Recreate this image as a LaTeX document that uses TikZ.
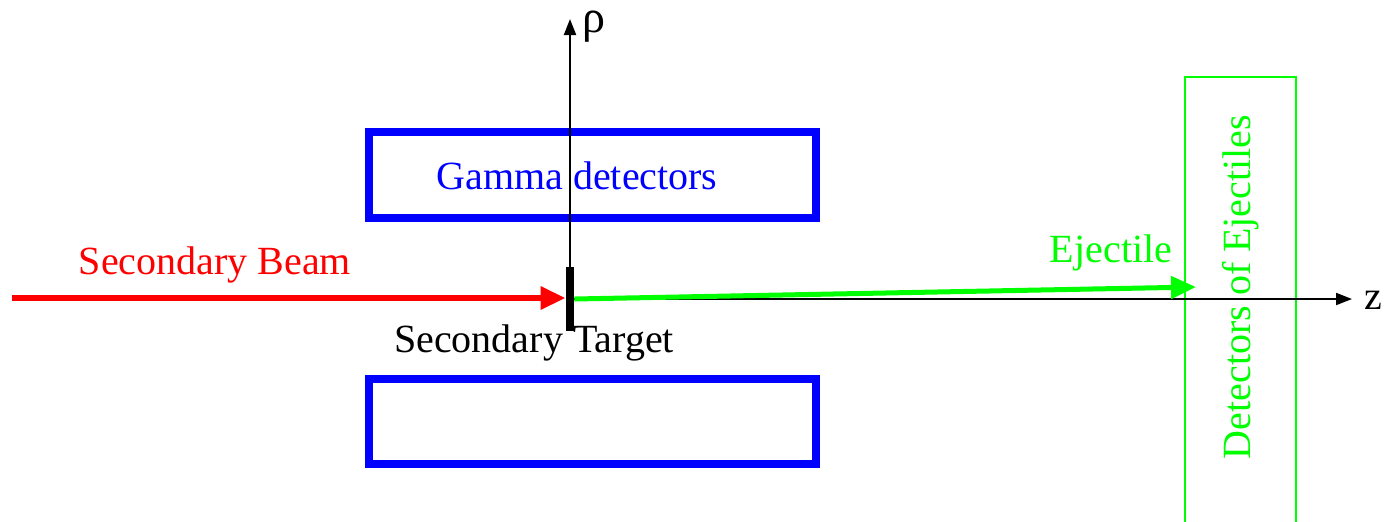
\documentclass[tikz,border=0pt]{standalone}
\usepackage{fontspec}
\setmainfont{Liberation Serif}
\usetikzlibrary{arrows.meta}
\definecolor{pgreen}{RGB}{0,255,0}
\definecolor{pblue}{RGB}{0,0,255}
\definecolor{pred}{RGB}{255,0,0}
\begin{document}
\begin{tikzpicture}[x=0.5pt,y=-0.5pt,
  lbl/.style={font=\fontsize{20}{24}\selectfont, inner sep=0pt},
  gbox/.style={draw=pblue, line width=4pt, minimum width=223.5pt, inner sep=0pt},
  axis/.style={line width=1pt, -{Triangle[length=8pt,width=6pt]}},
  beam/.style={pred, line width=3pt, -{Triangle[length=12.5pt,width=11pt]}},
  ejec/.style={pgreen, line width=2.5pt, -{Triangle[length=12.5pt,width=11pt]}}]
\useasboundingbox (0,0) rectangle (1385,521);
% gamma detectors
\node[gbox, minimum height=43pt] (gtop) at (592.5,175) {};
\node[gbox, minimum height=42.5pt] (gbot) at (592.5,421.5) {};
% ejectile detector
\node[draw=pgreen, line width=1pt, minimum width=55.5pt, minimum height=231.5pt, inner sep=0pt] (edet) at (1240.5,308.5) {};
% axes
\coordinate (o) at (570,299);
\coordinate (rhotip) at (570,19);
\coordinate (ztip) at (1352,299);
\draw[axis] (o) -- (rhotip);
\draw[axis] (o) -- (ztip);
\node[lbl, font=\fontsize{23}{26}\selectfont] (rho) at (594,27) {ρ};
\node[lbl] (zl) at (1373,300) {z};
% target
\node[fill=black, minimum width=4pt, minimum height=32pt, inner sep=0pt] (target) at (570,299) {};
% beams
\coordinate (bstart) at (12,298);
\draw[beam] (bstart) -- (target.west |- bstart);
\coordinate (etip) at (1196,287);
\draw[ejec] (target.east) -- (etip);
% labels
\node[lbl, text=pblue] (gl) at (577,176) {Gamma detectors};
\node[lbl, text=pred] (bl) at (215,265) {Secondary Beam};
\node[lbl] (tl) at (534,343) {Secondary Target};
\node[lbl, text=pgreen] (el) at (1111,253) {Ejectile};
\node[lbl, text=pgreen, rotate=90] (dl) at (1241,287) {Detectors of Ejectiles};
\end{tikzpicture}
\end{document}
